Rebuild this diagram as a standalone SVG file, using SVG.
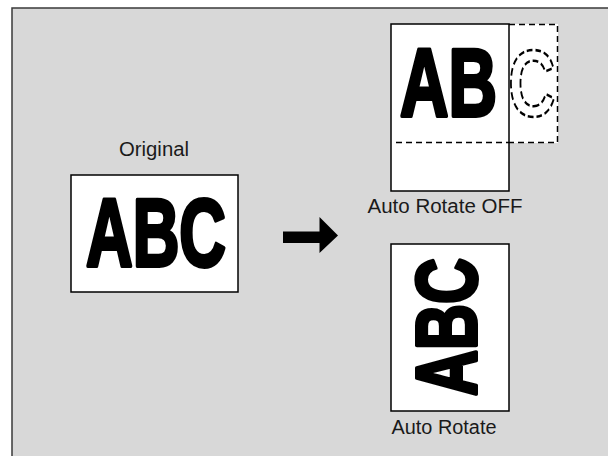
<svg xmlns="http://www.w3.org/2000/svg" width="608" height="456" viewBox="0 0 608 456">
<style>
.page{fill:#ffffff;stroke:#000000;stroke-width:1.5}
.lbl{font-family:"Liberation Sans",Arial,sans-serif;font-size:20px;fill:#1a1a1a;text-anchor:middle}
.big{font-family:"Liberation Sans",Arial,sans-serif;font-weight:bold;font-size:96px;fill:#000000;stroke:#000000;stroke-width:4;stroke-linejoin:round}
.ghost{fill:none;stroke:#000000;stroke-width:2.6;stroke-dasharray:8 4}
.dash{fill:none;stroke:#000000;stroke-width:1.5;stroke-dasharray:6 4}
</style>
<rect x="0" y="0" width="608" height="456" fill="#ffffff"/>
<rect x="12" y="8" width="610" height="460" fill="#d8d8d8" stroke="#3a3a3a" stroke-width="1.5"/>
<g id="original">
<text class="lbl" x="154" y="156" textLength="70" lengthAdjust="spacingAndGlyphs">Original</text>
<rect class="page" x="71" y="175" width="167" height="117"/>
<text class="big" transform="translate(86 266) scale(0.673 1)">ABC</text>
</g>
<g id="auto-rotate-off">
<rect x="509" y="24" width="49" height="119" fill="#ffffff"/>
<path class="dash" d="M509 24.5H557.5V142.5H396"/>
<rect class="page" x="391" y="24" width="118" height="167"/>
<path class="dash" d="M396 142.5H509"/>
<text class="big" transform="translate(400 116) scale(0.7 1)">AB<tspan class="ghost" dx="16" style="font-size:94px">C</tspan></text>
<text class="lbl" x="445" y="213" textLength="155" lengthAdjust="spacingAndGlyphs">Auto Rotate OFF</text>
</g>
<g id="auto-rotate">
<rect class="page" x="391" y="244" width="118" height="167"/>
<text class="big" transform="translate(476 396) rotate(-90) scale(0.74 1)" style="font-size:86px">ABC</text>
<text class="lbl" x="444" y="434" textLength="105" lengthAdjust="spacingAndGlyphs">Auto Rotate</text>
</g>
<g id="connectors">
<path d="M283 231.5H319.5V217L338 235.5L319.5 253V243H283Z" fill="#000000"/>
</g>
</svg>
